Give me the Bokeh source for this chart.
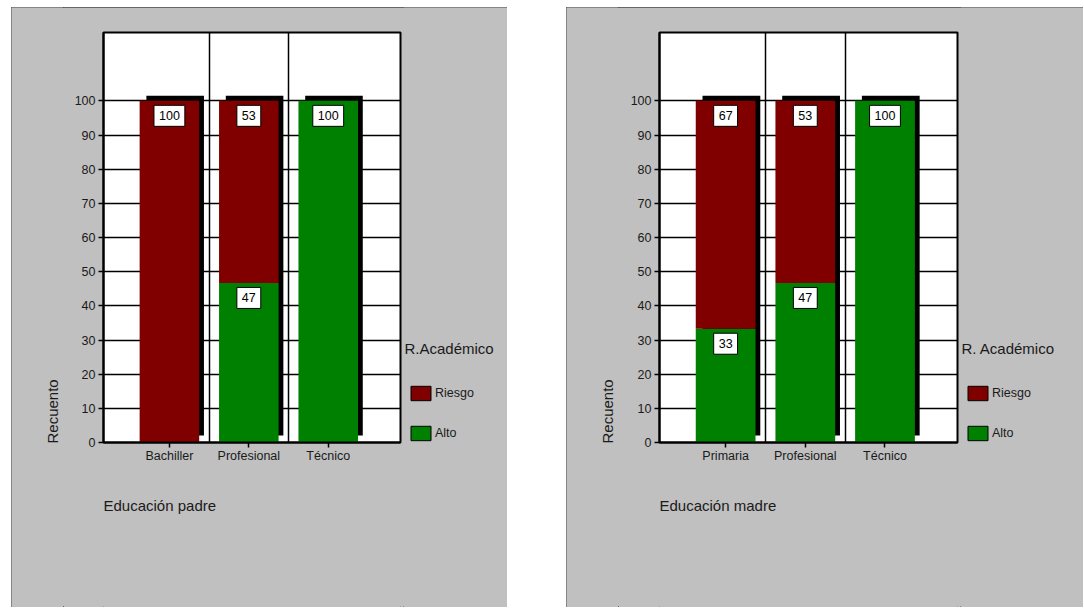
from math import pi
from bokeh.plotting import figure
from bokeh.models import (FixedTicker, Label, Legend, LegendItem, Range1d, Spacer)
from bokeh.layouts import row, column
from bokeh.embed import file_html
from bokeh.resources import INLINE

# ---------------- data ----------------
padre_cats = ["Bachiller", "Profesional", "Técnico"]
padre_alto = [0, 46.7, 100]
padre_riesgo = [100, 53.3, 0]

madre_cats = ["Primaria", "Profesional", "Técnico"]
madre_alto = [33.3, 46.7, 100]
madre_riesgo = [66.7, 53.3, 0]

y_ticks = [0, 10, 20, 30, 40, 50, 60, 70, 80, 90, 100]
series_names = ["Riesgo", "Alto"]
y_title = "Recuento"

# ---------------- styles ----------------
FONT = "'Liberation Sans Narrow', 'Liberation Sans', Arial, sans-serif"
SMALL = "12.5px"
BIG = "15px"
RED = "#800000"
GREEN = "#008000"
GRAY = "#c0c0c0"
TXT = "#1a1a1a"
X0, X1 = 0.17, 3.91
Y0, Y1 = 0, 120
H = 600            # total panel height
MAIN_H = 475       # chart figure height
TOP_B, FRAME_H = 25, 410
REC_W = 52


def text_fig(w, h, xr=None):
    f = figure(width=w, height=h, x_range=Range1d(0, xr if xr else w),
               y_range=Range1d(0, h),
               min_border=0, x_axis_location=None, y_axis_location=None,
               toolbar_location=None, output_backend="svg")
    f.background_fill_color = GRAY
    f.border_fill_color = GRAY
    f.outline_line_color = None
    f.grid.visible = False
    return f


def make_panel(cats, alto, riesgo, xlabel, legend_title, left_b, frame_w, leg_w):
    main_w = left_b + frame_w + 3
    p = figure(width=main_w, height=MAIN_H,
               x_range=Range1d(X0, X1), y_range=Range1d(Y0, Y1),
               output_backend="svg", toolbar_location=None,
               min_border_left=left_b, min_border_right=3,
               min_border_top=TOP_B, min_border_bottom=MAIN_H - TOP_B - FRAME_H)
    p.background_fill_color = "white"
    p.border_fill_color = GRAY
    p.outline_line_color = "black"
    p.outline_line_width = 2

    def px_y(dy):
        return Y0 + dy * (Y1 - Y0) / FRAME_H

    xs = [i + 1 for i in range(len(cats))]
    tops = [a + r for a, r in zip(alto, riesgo)]

    # shadows
    p.quad(left=[x - 0.29 for x in xs], right=[x + 0.435 for x in xs],
           bottom=[px_y(7)] * len(xs), top=[t + px_y(5) for t in tops],
           fill_color="black", line_color=None)
    # stacked bars
    p.vbar(x=xs, bottom=[0] * len(xs), top=alto, width=0.75,
           fill_color=GREEN, line_color=None)
    p.vbar(x=xs, bottom=alto, top=tops, width=0.75,
           fill_color=RED, line_color=None)

    # value labels
    for x, a, r in zip(xs, alto, riesgo):
        for top, v in ((a, a), (a + r, r)):
            if v > 0:
                p.add_layout(Label(x=x, y=top, text=str(int(round(v))),
                                   text_align="center", text_baseline="middle",
                                   y_offset=-15, text_font=FONT,
                                   text_font_size=SMALL, text_color="black",
                                   background_fill_color="white",
                                   border_line_color="black", border_line_width=1,
                                   padding=(5, 6)))

    # axes
    p.xaxis.ticker = FixedTicker(ticks=xs)
    p.xaxis.major_label_overrides = {x: c for x, c in zip(xs, cats)}
    p.yaxis.ticker = FixedTicker(ticks=y_ticks)
    for ax in (p.xaxis[0], p.yaxis[0]):
        ax.axis_line_width = 2
        ax.axis_line_color = "black"
        ax.major_tick_out = 5
        ax.major_tick_in = 0
        ax.minor_tick_out = 0
        ax.minor_tick_in = 0
        ax.major_tick_line_width = 1.5
        ax.major_label_text_font = FONT
        ax.major_label_text_font_size = SMALL
        ax.major_label_text_color = TXT
        ax.major_label_standoff = 3
    p.xaxis.major_label_standoff = 1

    # grids
    p.xgrid.ticker = FixedTicker(ticks=[1.5, 2.5])
    p.ygrid.ticker = FixedTicker(ticks=y_ticks)
    for g in (p.xgrid[0], p.ygrid[0]):
        g.grid_line_color = "black"
        g.grid_line_width = 1.5
        g.grid_line_alpha = 1

    # y title (left strip)
    rec = text_fig(REC_W, H)
    rec.add_layout(Label(x=41, y=164, text=y_title, angle=pi / 2,
                         text_align="left", text_baseline="middle", text_font=FONT,
                         text_font_size=BIG, text_color=TXT))

    # x title (under the chart; its frame lines up with the chart frame)
    xl = text_fig(main_w, H - MAIN_H, xr=frame_w)
    xl.add_layout(Label(x=0, y=102, text=xlabel,
                        text_align="left", text_baseline="alphabetic", text_font=FONT,
                        text_font_size=BIG, text_color=TXT))

    # legend strip
    lg = text_fig(leg_w, H)
    la = lg.vbar(x=xs, bottom=[0] * len(xs), top=alto, width=0.75,
                 fill_color=GREEN, line_color="black", visible=False)
    lr = lg.vbar(x=xs, bottom=alto, top=tops, width=0.75,
                 fill_color=RED, line_color="black", visible=False)
    lg.add_layout(Label(x=1, y=259, text=legend_title,
                        text_align="left", text_baseline="alphabetic", text_font=FONT,
                        text_font_size=BIG, text_color=TXT))
    leg = Legend(items=[LegendItem(label=series_names[0], renderers=[lr]),
                        LegendItem(label=series_names[1], renderers=[la])],
                 location=(5, 165), orientation="vertical",
                 glyph_width=25, glyph_height=18, label_height=18, spacing=22,
                 padding=0, margin=0, label_standoff=2,
                 label_text_font=FONT, label_text_font_size=SMALL,
                 label_text_color=TXT, background_fill_alpha=0,
                 border_line_color=None)
    lg.add_layout(leg)

    panel = row(rec, column(p, xl), lg)
    panel.styles = {"outline": "1px solid #4a4a4a", "outline-offset": "-1px",
                    "background-color": GRAY}
    return panel


panel1 = make_panel(padre_cats, padre_alto, padre_riesgo, "Educación padre",
                    "R.Académico", 40, 297, 104)
panel2 = make_panel(madre_cats, madre_alto, madre_riesgo, "Educación madre",
                    "R. Académico", 41, 298, 123)

layout = column(Spacer(width=10, height=7),
                row(Spacer(width=11, height=H), panel1, Spacer(width=59, height=H), panel2))

open("out.html", "w").write(file_html(layout, INLINE))
